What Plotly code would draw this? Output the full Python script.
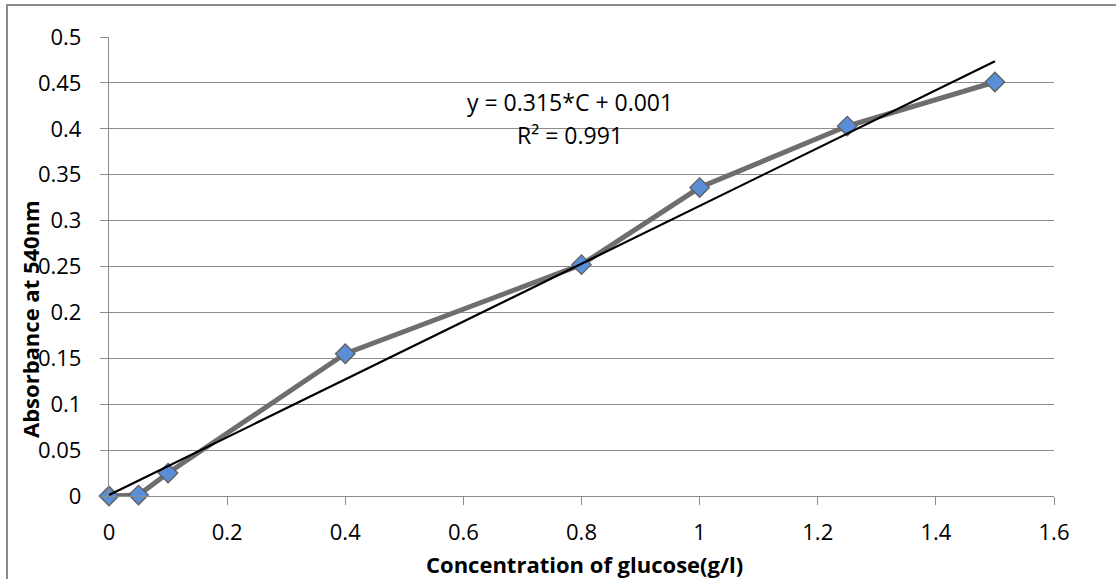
import plotly.graph_objects as go

conc = [0, 0.05, 0.1, 0.4, 0.8, 1.0, 1.25, 1.5]
absorb = [0.0, 0.001, 0.025, 0.155, 0.252, 0.336, 0.403, 0.451]
fit_slope = 0.315
fit_intercept = 0.001
fit_x = [0, 1.5]
x_ticks = [0, 0.2, 0.4, 0.6, 0.8, 1, 1.2, 1.4, 1.6]
y_ticks = [0, 0.05, 0.1, 0.15, 0.2, 0.25, 0.3, 0.35, 0.4, 0.45, 0.5]

W, H = 1116, 579
L, R, T, B = 109, 62, 37, 83
FONT = "Open Sans"

fig = go.Figure()
fig.add_trace(go.Scatter(
    x=conc, y=absorb, mode="lines+markers",
    line=dict(color="#6e6e6e", width=5),
    marker=dict(symbol="diamond", size=15, color="#5a8ed6",
                line=dict(color="#606060", width=1.3)),
    showlegend=False, cliponaxis=False, hoverinfo="skip"))
fig.add_trace(go.Scatter(
    x=fit_x, y=[fit_slope * v + fit_intercept for v in fit_x], mode="lines",
    line=dict(color="black", width=2.2), showlegend=False, cliponaxis=False,
    hoverinfo="skip"))

pw = W - L - R
ph = H - T - B
def px(x):
    return (x - L) / pw
def py(y):
    return (H - B - y) / ph

fig.add_shape(type="rect", xref="paper", yref="paper",
              x0=px(7), x1=px(1130), y0=py(5), y1=py(595),
              line=dict(color="#8a8a8a", width=2), layer="below")

fig.add_annotation(x=0.78, y=0.4287, xref="x", yref="y",
                   text="y = 0.315*C + 0.001", showarrow=False,
                   xanchor="center", yanchor="middle",
                   font=dict(family=FONT, size=23, color="black"))
fig.add_annotation(x=0.78, y=0.3936, xref="x", yref="y",
                   text="R² = 0.991", showarrow=False,
                   xanchor="center", yanchor="middle",
                   font=dict(family=FONT, size=23, color="black"))
fig.add_annotation(x=px(30), y=py(319), xref="paper", yref="paper",
                   text="<b>Absorbance at 540nm</b>", showarrow=False, textangle=-90,
                   xanchor="center", yanchor="middle",
                   font=dict(family=FONT, size=22, color="black"))
fig.add_annotation(x=px(584), y=py(564), xref="paper", yref="paper",
                   text="<b>Concentration of glucose(g/l)</b>", showarrow=False,
                   xanchor="center", yanchor="middle",
                   font=dict(family=FONT, size=22, color="black"))

fig.update_xaxes(range=[0, 1.6], tickvals=x_ticks,
                 ticktext=[f"{v:g}" for v in x_ticks],
                 showgrid=False, zeroline=False, showline=True,
                 linecolor="#8c8c8c", linewidth=1.3,
                 ticks="outside", ticklen=8, tickcolor="#8c8c8c",
                 ticklabelstandoff=8,
                 tickfont=dict(family=FONT, size=22, color="black"))
fig.update_yaxes(range=[0, 0.5], tickvals=y_ticks,
                 ticktext=[f"{v:g}" for v in y_ticks],
                 showgrid=True, gridcolor="#8c8c8c", gridwidth=1.3,
                 zeroline=False, showline=True, linecolor="#8c8c8c", linewidth=1.3,
                 ticks="outside", ticklen=8, tickcolor="#8c8c8c",
                 ticklabelstandoff=14,
                 tickfont=dict(family=FONT, size=22, color="black"))

fig.update_layout(width=W, height=H, margin=dict(l=L, r=R, t=T, b=B),
                  plot_bgcolor="white", paper_bgcolor="white", hovermode=False)
fig.write_html("out.html", config={"displayModeBar": False},
               post_script="document.body.style.margin='0';document.body.style.overflow='hidden';")
